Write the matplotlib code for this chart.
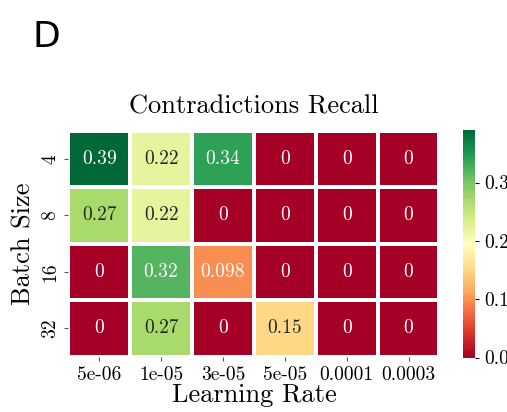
import matplotlib
matplotlib.use("Agg")
import matplotlib.pyplot as plt
import seaborn as sns
import numpy as np
import pandas as pd

learning_rates = ["5e-06", "1e-05", "3e-05", "5e-05", "0.0001", "0.0003"]
batch_sizes = ["4", "8", "16", "32"]
recall_bs4 = [0.39, 0.22, 0.34, 0, 0, 0]
recall_bs8 = [0.27, 0.22, 0, 0, 0, 0]
recall_bs16 = [0, 0.32, 0.098, 0, 0, 0]
recall_bs32 = [0, 0.27, 0, 0.15, 0, 0]

df = pd.DataFrame([recall_bs4, recall_bs8, recall_bs16, recall_bs32],
                  index=batch_sizes, columns=learning_rates)

plt.rcParams['font.family'] = ['cmr10', 'DejaVu Serif']
plt.rcParams['axes.formatter.use_mathtext'] = True
plt.rcParams['mathtext.fontset'] = 'cm'

fig = plt.figure(figsize=(5.07, 4.12), dpi=100)
W, H = 507, 412
ax = fig.add_axes([68.3 / W, 1 - 356.7 / H, (439.5 - 68.3) / W, (356.7 - 130.7) / H])
cax = fig.add_axes([463.3 / W, 1 - 357.5 / H, 12 / W, (357.5 - 130) / H])

sns.heatmap(df, ax=ax, cbar_ax=cax, cmap="RdYlGn", annot=True, fmt=".2g",
            linewidths=1.5, linecolor="white",
            annot_kws={"fontsize": 14})

ax.set_title("Contradictions Recall", fontsize=19, pad=12.5)
ax.set_xlabel("Learning Rate", fontsize=19, labelpad=0)
ax.set_ylabel("Batch Size", fontsize=19, labelpad=4)
ax.tick_params(axis='both', labelsize=14, length=3, color='#555555')
for lbl in ax.get_yticklabels():
    lbl.set_rotation(90)
    lbl.set_va('center')
cax.tick_params(labelsize=14, length=3)
cax.set_yticks([0.0, 0.1, 0.2, 0.3])
cax.set_yticklabels(["0.0", "0.1", "0.2", "0.3"])

fig.text(32 / W, 1 - 47 / H, "D", fontsize=26, family="DejaVu Sans", va="baseline")

fig.savefig("out.png", dpi=100)
